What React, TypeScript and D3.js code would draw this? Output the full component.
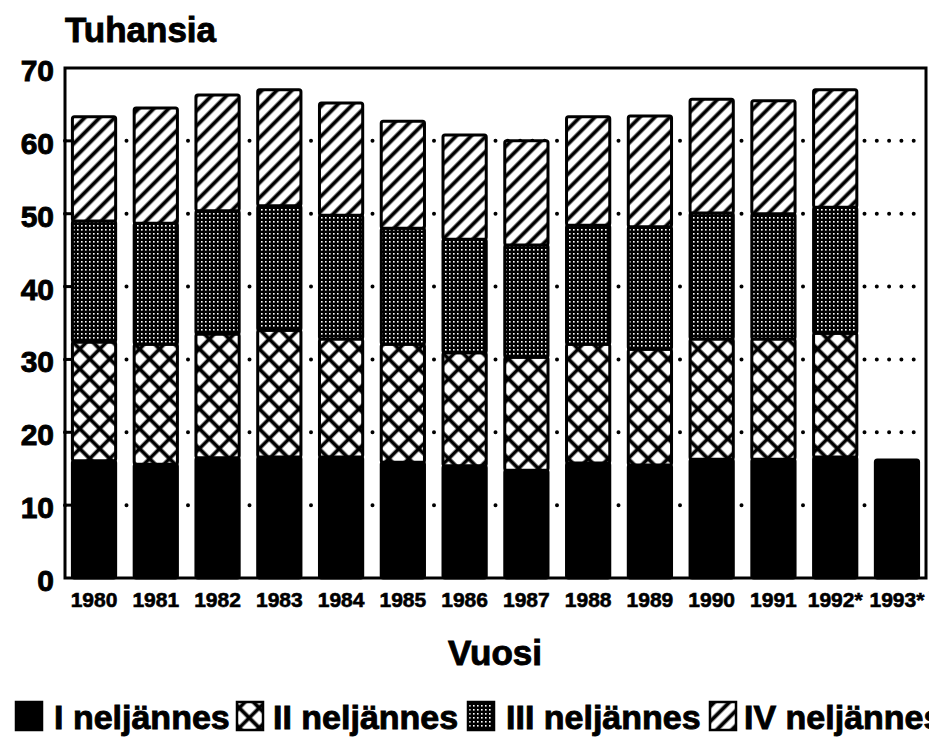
import React from "react";
import * as d3 from "d3";

const years = ["1980", "1981", "1982", "1983", "1984", "1985", "1986", "1987", "1988", "1989", "1990", "1991", "1992*", "1993*"];
const q1 = [16.1, 15.6, 16.5, 16.6, 16.6, 15.9, 15.4, 14.8, 15.8, 15.5, 16.3, 16.3, 16.6, 16.2];
const q2 = [16.3, 16.5, 17.0, 17.4, 16.2, 16.2, 15.5, 15.5, 16.3, 15.9, 16.5, 16.5, 17.0, 0];
const q3 = [16.6, 16.6, 16.9, 17.1, 17.0, 15.9, 15.6, 15.4, 16.3, 16.8, 17.3, 17.2, 17.3, 0];
const q4 = [14.3, 15.8, 15.9, 15.9, 15.4, 14.7, 14.3, 14.3, 14.9, 15.2, 15.6, 15.5, 16.1, 0];
const quarterNames = ["I neljännes", "II neljännes", "III neljännes", "IV neljännes"];
const yTicks = [0, 10, 20, 30, 40, 50, 60, 70];

const W = 929;
const H = 742;
const m = { left: 65, right: 926, top: 68, bottom: 578 };
const font = "'Liberation Sans', Arial, sans-serif";
const fills = ["#000", "url(#cross)", "url(#stipple)", "url(#hatch)"];

// heavy look of the original typeface
const heavy = { fontFamily: font, fontWeight: "bold" as const, stroke: "#000", strokeWidth: 0.9 };

export default function App() {
  const rows = years.map((y, i) => ({ year: y, q1: q1[i], q2: q2[i], q3: q3[i], q4: q4[i] }));
  const series = d3.stack<any>().keys(["q1", "q2", "q3", "q4"])(rows);

  const x = d3.scaleBand().domain(years).range([m.left, m.right]).paddingInner(0.3).paddingOuter(0.12);
  const y = d3.scaleLinear().domain([0, 70]).range([m.bottom, m.top]);

  // legend swatch / text positions
  const boxX = [16, 237, 468, 710];
  const txtX = [54, 273, 506, 744];

  return (
    <svg width={W} height={H} style={{ display: "block", position: "absolute", left: 0, top: 0 }}>
      <style>{`body{margin:0}`}</style>
      <defs>
        <pattern id="hatch" patternUnits="userSpaceOnUse" width={10.6} height={10.6} patternTransform="rotate(45)">
          <rect width={10.6} height={10.6} fill="#fff" />
          <line x1={5.3} y1={0} x2={5.3} y2={10.6} stroke="#000" strokeWidth={3.8} />
        </pattern>
        <pattern id="cross" patternUnits="userSpaceOnUse" width={14.1} height={14.1} patternTransform="rotate(45)">
          <rect width={14.1} height={14.1} fill="#fff" />
          <path d="M7.05,0V14.1M0,7.05H14.1" stroke="#000" strokeWidth={3.6} />
        </pattern>
        <pattern id="stipple" patternUnits="userSpaceOnUse" width={4} height={4}>
          <rect width={4} height={4} fill="#000" />
          <rect x={1} y={1} width={1.6} height={1.6} fill="#fff" />
        </pattern>
      </defs>

      {/* dotted grid */}
      {yTicks.slice(1, -1).map((t) => (
        <line key={t} x1={m.left} x2={m.right} y1={y(t)} y2={y(t)} stroke="#000" strokeWidth={4}
          strokeLinecap="round" strokeDasharray="0 12.3" />
      ))}

      {/* bars */}
      {series.map((s, si) =>
        s.map((d, i) =>
          d[1] - d[0] > 0 ? (
            <rect key={si + "-" + i} x={x(years[i])} width={x.bandwidth()} y={y(d[1])} height={y(d[0]) - y(d[1])}
              fill={fills[si]} stroke="#000" strokeWidth={3} rx={2} />
          ) : null
        )
      )}

      {/* frame */}
      <rect x={m.left} y={m.top} width={m.right - m.left} height={m.bottom - m.top} fill="none" stroke="#000" strokeWidth={3} />
      {yTicks.slice(1, -1).map((t) => (
        <line key={"tk" + t} x1={m.left} x2={m.left + 9} y1={y(t)} y2={y(t)} stroke="#000" strokeWidth={3} />
      ))}

      {/* y labels */}
      {yTicks.map((t) => (
        <text key={"yl" + t} x={54} y={y(t) + 2.5} dy="0.35em" textAnchor="end" {...heavy} fontSize={30}>
          {t}
        </text>
      ))}

      {/* x labels */}
      {years.map((yr) => (
        <text key={"xl" + yr} x={x(yr)! + x.bandwidth() / 2} y={607} textAnchor="middle" {...heavy} strokeWidth={0.6} fontSize={21}>
          {yr}
        </text>
      ))}

      <text x={65} y={42} {...heavy} fontSize={35}>Tuhansia</text>
      <text x={495} y={665} textAnchor="middle" {...heavy} fontSize={35}>Vuosi</text>

      {/* legend */}
      {quarterNames.map((nm, i) => (
        <g key={nm}>
          <rect x={boxX[i]} y={702} width={26} height={28} fill={fills[i]} stroke="#000" strokeWidth={2.5} />
          <text x={txtX[i]} y={729} {...heavy} fontSize={34}>{nm}</text>
        </g>
      ))}
    </svg>
  );
}
